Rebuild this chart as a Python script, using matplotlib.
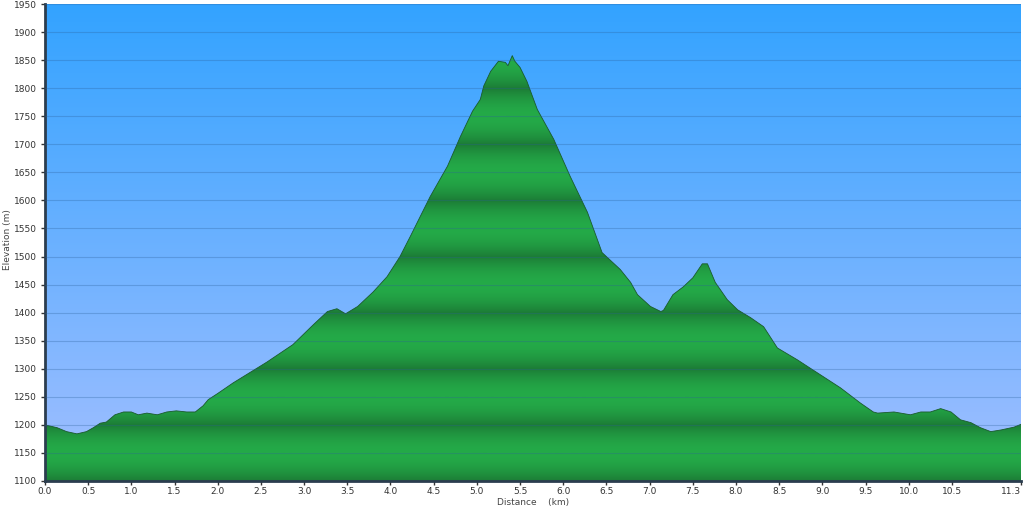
import numpy as np
import matplotlib
matplotlib.use("Agg")
import matplotlib.pyplot as plt
from matplotlib.colors import LinearSegmentedColormap

# elevation profile (km, m)
distance = [0.00, 0.14, 0.25, 0.37, 0.48, 0.56, 0.64, 0.71, 0.81, 0.91, 1.00,
            1.08, 1.18, 1.30, 1.41, 1.52, 1.64, 1.74, 1.83, 1.89, 2.00, 2.18,
            2.57, 2.87, 2.95, 3.11, 3.27, 3.38, 3.48, 3.62, 3.80, 3.96, 4.11,
            4.23, 4.46, 4.66, 4.81, 4.95, 5.04, 5.08, 5.16, 5.25, 5.33, 5.36,
            5.41, 5.44, 5.50, 5.58, 5.70, 5.89, 6.08, 6.28, 6.45, 6.66, 6.78,
            6.86, 7.01, 7.13, 7.16, 7.27, 7.39, 7.50, 7.61, 7.67, 7.76, 7.90,
            8.02, 8.17, 8.32, 8.48, 8.71, 8.98, 9.21, 9.44, 9.59, 9.64, 9.83,
            10.02, 10.14, 10.25, 10.37, 10.49, 10.60, 10.72, 10.83, 10.95,
            11.07, 11.22, 11.30]
elevation = [1200, 1195, 1188, 1184, 1188, 1195, 1203, 1205, 1218, 1223, 1223,
             1218, 1221, 1218, 1223, 1225, 1223, 1223, 1234, 1245, 1256, 1275,
             1312, 1343, 1355, 1379, 1402, 1407, 1398, 1411, 1437, 1464, 1500,
             1536, 1607, 1661, 1714, 1759, 1780, 1804, 1830, 1848, 1846, 1840,
             1858, 1848, 1837, 1812, 1762, 1709, 1643, 1579, 1507, 1477, 1454,
             1432, 1411, 1402, 1404, 1432, 1446, 1462, 1487, 1487, 1454, 1423,
             1405, 1391, 1375, 1337, 1316, 1289, 1266, 1239, 1223, 1221, 1223,
             1218, 1223, 1223, 1229, 1223, 1209, 1204, 1195, 1188, 1191, 1196,
             1201]

xticks = [0.0, 0.5, 1.0, 1.5, 2.0, 2.5, 3.0, 3.5, 4.0, 4.5, 5.0, 5.5, 6.0,
          6.5, 7.0, 7.5, 8.0, 8.5, 9.0, 9.5, 10.0, 10.5, 11.3]
yticks = list(range(1100, 1951, 50))

x_min, x_max = 0.0, 11.3
y_min, y_max = 1100, 1950

fig = plt.figure(figsize=(10.24, 5.08), dpi=100)
ax = fig.add_axes([45 / 1024, 27 / 508, 976 / 1024, 477 / 508])

# sky gradient background
sky = LinearSegmentedColormap.from_list("sky", ["#a2bfff", "#33a3ff"])
grad = np.linspace(0, 1, 256).reshape(-1, 1)
ax.imshow(grad, cmap=sky, origin="lower", aspect="auto",
          extent=[x_min, x_max, y_min, y_max], zorder=0)

# banded green fill, dark at every 100 m, light in between
green = LinearSegmentedColormap.from_list("grn", ["#1c7c36", "#24aa48"])
yy = np.linspace(y_min, y_max, 1200)
band = 0.5 - 0.5 * np.cos(2 * np.pi * ((yy - 1100) % 100) / 100)
band = band ** 0.45
poly = ax.fill_between(distance, elevation, y_min, color="none", lw=0)
img = ax.imshow(band.reshape(-1, 1), cmap=green, origin="lower", aspect="auto",
                extent=[x_min, x_max, y_min, y_max], zorder=1)
img.set_clip_path(poly.get_paths()[0], transform=ax.transData)
ax.plot(distance, elevation, color="#1a5a2c", lw=0.6, zorder=2)

# grid
for y in yticks[1:]:
    ax.axhline(y, color="#2a5f9a", lw=0.8, alpha=0.3, zorder=3)

ax.set_xlim(x_min, x_max)
ax.set_ylim(y_min, y_max)
ax.set_xticks(xticks)
ax.set_xticklabels([f"{t:.1f}" for t in xticks])
ax.get_xticklabels()[-1].set_horizontalalignment("right")
ax.set_yticks(yticks)
ax.tick_params(axis="both", labelsize=6.5, colors="#333333", length=3,
               width=1, direction="out")
ax.tick_params(axis="x", pad=1)
ax.tick_params(axis="y", pad=3)

for side in ["top", "right"]:
    ax.spines[side].set_visible(False)
for side in ["left", "bottom"]:
    ax.spines[side].set_color("#2b3d4f")
    ax.spines[side].set_linewidth(2)

fig.text(8 / 1024, 1 - 240 / 508, "Elevation (m)", rotation=90, fontsize=6.5,
         color="#444444", ha="center", va="center")
fig.text(533 / 1024, 1 - 502 / 508, "Distance    (km)", fontsize=6.5,
         color="#444444", ha="center", va="center")

fig.set_facecolor("w")
fig.savefig("out.png", dpi=100, facecolor="w")
